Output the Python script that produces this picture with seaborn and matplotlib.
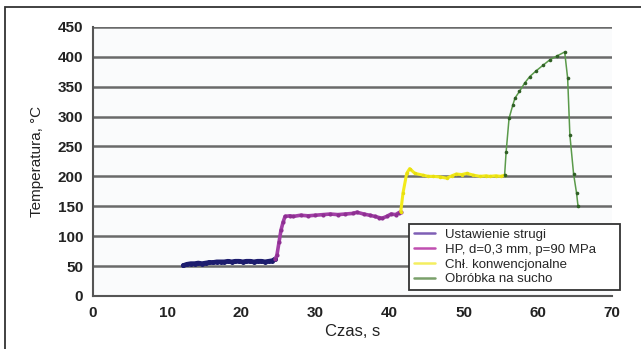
import numpy as np
import pandas as pd
import matplotlib
matplotlib.use("Agg")
import matplotlib.pyplot as plt
import seaborn as sns
from matplotlib.patches import Rectangle
from matplotlib.lines import Line2D

series_names = ["Ustawienie strugi", "HP, d=0,3 mm, p=90 MPa",
                "Chł. konwencjonalne", "Obróbka na sucho"]

t1 = [12.2, 12.7, 13.2, 13.7, 14.2, 14.7, 15.2, 15.7, 16.2, 16.7, 17.2, 17.7,
      18.2, 18.7, 19.2, 19.7, 20.2, 20.7, 21.2, 21.7, 22.2, 22.7, 23.2, 23.7,
      24.2, 24.6]
T1 = [51, 53, 54, 54, 55, 54, 55, 56, 56, 57, 57, 57, 58, 57, 58, 58, 57, 58,
      58, 57, 58, 58, 57, 58, 59, 62]

t2 = [24.6, 24.8, 25.1, 25.35, 25.65, 25.9, 26.5, 27.0, 28.0, 29.0, 30.0,
      31.0, 32.0, 33.0, 34.0, 35.0, 35.6, 36.5, 37.3, 38.0, 38.6, 39.0, 39.6,
      40.2, 40.8, 41.2, 41.5]
T2 = [62, 68, 91, 110, 124, 133, 134, 133, 135, 134, 135, 136, 137, 136, 137,
      138, 140, 137, 135, 133, 131, 130, 133, 137, 136, 139, 141]

t3 = [41.5, 41.8, 42.3, 42.7, 43.4, 44.5, 45.2, 45.9, 46.8, 47.7, 48.4, 49.0,
      49.7, 50.4, 51.3, 52.2, 53.0, 53.5, 54.3, 55.0, 55.5]
T3 = [141, 172, 205, 213, 205, 202, 200, 200, 199, 197, 201, 204, 203, 205,
      202, 200, 201, 200, 201, 200, 202]

t4 = [55.5, 55.7, 56.1, 56.6, 56.9, 57.5, 58.2, 58.9, 59.8, 60.7, 61.6, 62.5,
      63.6, 64.0, 64.3, 64.8, 65.2, 65.4]
T4 = [202, 240, 297, 319, 331, 342, 356, 367, 377, 386, 395, 401, 408, 364,
      269, 204, 172, 150]

colors = ["#1c1c6e", "#a23fa6", "#f2ea1a", "#5a9a4a"]
legend_colors = ["#7f5fb5", "#c04fb0", "#f4ee60", "#7aa06a"]
marker_colors = ["#1c1c6e", "#8e2f92", "#e8df10", "#2f5f25"]

frames = []
for name, t, T in zip(series_names, [t1, t2, t3, t4], [T1, T2, T3, T4]):
    frames.append(pd.DataFrame({"t": t, "T": T, "s": name, "order": range(len(t))}))
df = pd.concat(frames, ignore_index=True)

sns.set_style("white")
plt.rcParams["font.family"] = ["Liberation Sans", "DejaVu Sans"]

fig = plt.figure(figsize=(6.41, 3.49), dpi=100)
ax = fig.add_axes([0.145, 0.152, 0.810, 0.771])
ax.set_facecolor("#fafbfc")

widths = [3.4, 2.6, 2.2, 1.1]
msizes = [3.6, 3.0, 2.5, 2.6]
for i, name in enumerate(series_names):
    sub = df[df["s"] == name]
    sns.lineplot(data=sub, x="t", y="T", sort=False, ax=ax, color=colors[i],
                 linewidth=widths[i], marker="o", markersize=msizes[i],
                 markerfacecolor=marker_colors[i], markeredgewidth=0,
                 estimator=None, legend=False, zorder=3 + i)

ax.set_xlim(0, 70)
ax.set_ylim(0, 450)
ax.set_xticks(range(0, 71, 10))
ax.set_yticks(range(0, 451, 50))
ax.yaxis.grid(True, color="#6a6a6a", linewidth=1.8)
ax.xaxis.grid(False)
for s in ["top", "right"]:
    ax.spines[s].set_visible(False)
for s in ["left", "bottom"]:
    ax.spines[s].set_color("#555555")
    ax.spines[s].set_linewidth(1.5)
ax.tick_params(axis="both", direction="out", length=4, width=1.2,
               color="#555555", labelsize=11, pad=3)
for lab in ax.get_xticklabels() + ax.get_yticklabels():
    lab.set_fontweight("bold")
    lab.set_color("#222222")

ax.set_xlabel("Czas, s", fontsize=12, color="#222222", labelpad=3)
ax.set_ylabel("Temperatura, °C", fontsize=11, color="#222222", labelpad=10)

handles = [Line2D([0], [0], color=legend_colors[i], linewidth=1.8)
           for i in range(4)]
leg = ax.legend(handles, series_names, loc="lower left",
                bbox_to_anchor=(0.609, 0.022, 0.406, 0.28), mode="expand",
                fontsize=9.5, frameon=True, fancybox=False, handlelength=1.6,
                handletextpad=0.8, borderpad=0.35, labelspacing=0.2,
                borderaxespad=0)
leg.get_frame().set_edgecolor("#333333")
leg.get_frame().set_linewidth(1.3)
leg.get_frame().set_facecolor("white")
leg.get_frame().set_alpha(1)
leg.set_zorder(10)

fig.patches.append(Rectangle((5 / 641, -0.1), 1.1, 1 - 7 / 349 + 0.1,
                             transform=fig.transFigure, fill=False,
                             edgecolor="#333333", linewidth=1.3))

fig.savefig("out.png", dpi=100)
